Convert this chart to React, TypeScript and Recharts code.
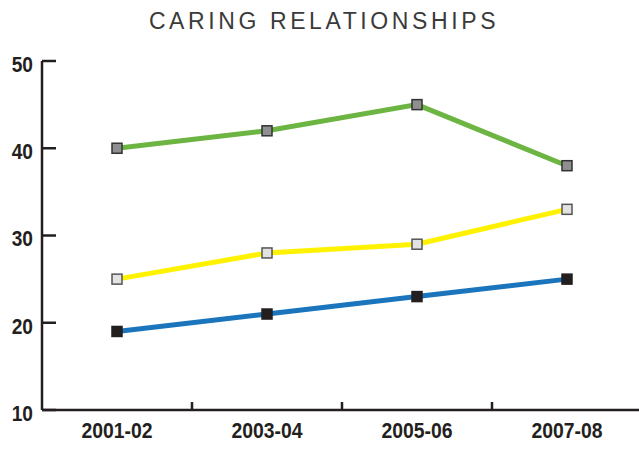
import React from "react";
import { LineChart, Line, XAxis, YAxis } from "recharts";

const categories = ["2001-02", "2003-04", "2005-06", "2007-08"];
const greenSeries = [40, 42, 45, 38];
const yellowSeries = [25, 28, 29, 33];
const blueSeries = [19, 21, 23, 25];
const yTicks = [10, 20, 30, 40, 50];

const data = categories.map((c, i) => ({
  period: c,
  green: greenSeries[i],
  yellow: yellowSeries[i],
  blue: blueSeries[i],
}));

const AXIS_COLOR = "#231f20";
const LABEL_FONT = "'Liberation Sans', Arial, sans-serif";
const X_TICK_MARGIN = 12;

const square = (fill: string, stroke: string) => (props: any) => {
  const { cx, cy, index } = props;
  if (cx == null || cy == null) return <g key={`sq-${index}`} />;
  const s = 10;
  return (
    <rect
      key={`sq-${index}`}
      x={cx - s / 2}
      y={cy - s / 2}
      width={s}
      height={s}
      fill={fill}
      stroke={stroke}
      strokeWidth={1.5}
    />
  );
};

const XLabel = (props: any) => {
  const { x, y, payload, index, visibleTicksCount } = props;
  const half = payload && payload.offset ? payload.offset : 0;
  const axisY = y - X_TICK_MARGIN;
  const showBoundary = half > 0 && index < (visibleTicksCount ?? categories.length) - 1;
  return (
    <g>
      {showBoundary && (
        <line
          x1={x + half}
          x2={x + half}
          y1={axisY}
          y2={axisY - 8}
          stroke={AXIS_COLOR}
          strokeWidth={2.5}
        />
      )}
      <text
        transform={`translate(${x},${y}) scale(0.88,1)`}
        textAnchor="middle"
        dy="0.71em"
        fontFamily={LABEL_FONT}
        fontSize={22}
        fontWeight={700}
        fill={AXIS_COLOR}
      >
        {payload.value}
      </text>
    </g>
  );
};

const YLabel = (props: any) => {
  const { x, y, payload } = props;
  return (
    <text
      transform={`translate(${x},${y + 3}) scale(0.87,1)`}
      textAnchor="end"
      dy="0.355em"
      fontFamily={LABEL_FONT}
      fontSize={22}
      fontWeight={700}
      fill={AXIS_COLOR}
    >
      {payload.value}
    </text>
  );
};

export default function App() {
  return (
    <div
      style={{
        position: "absolute",
        left: 0,
        top: 0,
        width: 639,
        height: 451,
        overflow: "hidden",
        background: "#fff",
      }}
    >
      <div
        style={{
          position: "absolute",
          left: 0,
          top: 10,
          width: 648,
          textAlign: "center",
          fontFamily: "'Liberation Sans', Arial, sans-serif",
          fontSize: 23,
          lineHeight: "23px",
          letterSpacing: 3.6,
          color: "#3a3a3a",
        }}
      >
        CARING RELATIONSHIPS
      </div>
      <LineChart
        width={642}
        height={451}
        data={data}
        margin={{ top: 61, right: 0, bottom: 0, left: 0 }}
      >
        <XAxis
          dataKey="period"
          type="category"
          scale="band"
          height={41}
          tickSize={0}
          tickMargin={X_TICK_MARGIN}
          tickLine={false}
          axisLine={{ stroke: AXIS_COLOR, strokeWidth: 2.5 }}
          tick={XLabel}
          interval={0}
        />
        <YAxis
          domain={[10, 50]}
          ticks={yTicks}
          width={42}
          tickSize={-14}
          tickMargin={23}
          axisLine={{ stroke: AXIS_COLOR, strokeWidth: 2.5 }}
          tickLine={{ stroke: AXIS_COLOR, strokeWidth: 2.5 }}
          tick={YLabel}
        />
        <Line
          type="linear"
          dataKey="green"
          stroke="#6db543"
          strokeWidth={5}
          dot={square("#8f8f8f", "#333333")}
          activeDot={false}
          isAnimationActive={false}
        />
        <Line
          type="linear"
          dataKey="yellow"
          stroke="#fff200"
          strokeWidth={5}
          dot={square("#e2e2e2", "#555555")}
          activeDot={false}
          isAnimationActive={false}
        />
        <Line
          type="linear"
          dataKey="blue"
          stroke="#1b75bc"
          strokeWidth={5}
          dot={square("#231f20", "#231f20")}
          activeDot={false}
          isAnimationActive={false}
        />
      </LineChart>
    </div>
  );
}
